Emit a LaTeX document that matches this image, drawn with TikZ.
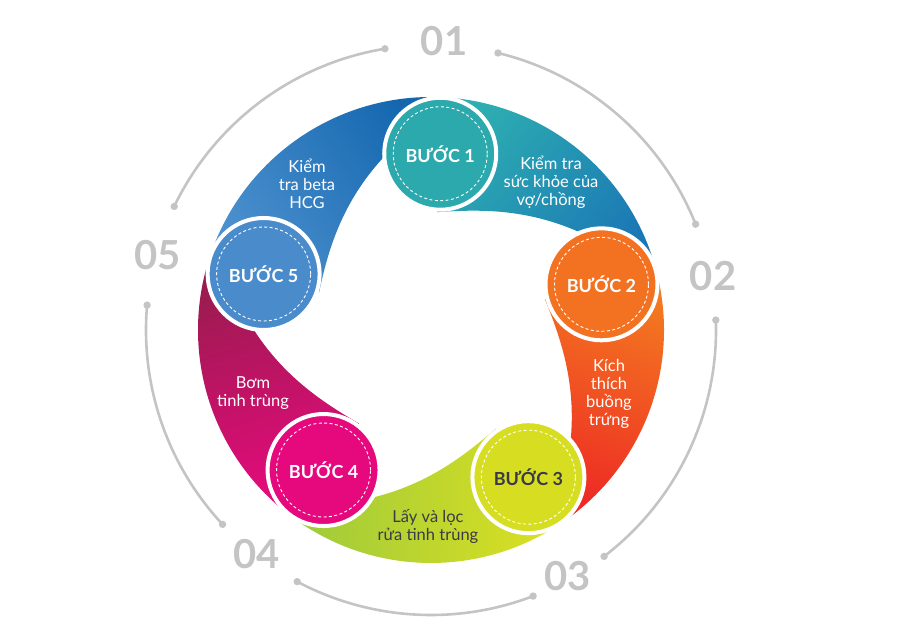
\documentclass[tikz,border=0pt]{standalone}
\usepackage{fontspec}
\setmainfont{Lato}
\pgfdeclarelayer{background}
\pgfsetlayers{background,main}
\definecolor{ringgray}{HTML}{C4C4C4}
\definecolor{darktext}{HTML}{3B3A48}
\definecolor{tealC}{HTML}{2BA9AD}
\definecolor{tealA}{HTML}{2DAEB1}
\definecolor{tealB}{HTML}{1B78B5}
\definecolor{orangeC}{HTML}{F37222}
\definecolor{orangeA}{HTML}{F47B20}
\definecolor{orangeB}{HTML}{ED2A24}
\definecolor{limeC}{HTML}{D7DE22}
\definecolor{limeA}{HTML}{DCE021}
\definecolor{limeB}{HTML}{9DCA3C}
\definecolor{pinkC}{HTML}{E6097D}
\definecolor{pinkA}{HTML}{E80A7E}
\definecolor{pinkB}{HTML}{981C4E}
\definecolor{blueC}{HTML}{4A8CCB}
\definecolor{blueA}{HTML}{4D91CF}
\definecolor{blueB}{HTML}{1467AF}
\tikzstyle{band}=[draw=none]
\tikzstyle{stepcircle}=[circle,draw=white,line width=4pt,minimum size=112pt,inner sep=0pt,font=\bfseries\fontsize{18}{20}\selectfont]
\tikzstyle{dash ring}=[draw=white,line width=0.9pt,dash pattern=on 3pt off 2.4pt]
\tikzstyle{caption}=[align=center,text=white,font=\fontsize{16.5}{18}\selectfont]
\tikzstyle{number}=[text=ringgray,font=\bfseries\fontsize{40}{40}\selectfont]
\tikzstyle{ring arc}=[draw=ringgray,line width=2.6pt]
\tikzstyle{ring dot}=[fill=ringgray]

\begin{document}
\begin{tikzpicture}[x=1pt,y=1pt]
	\useasboundingbox (-431,-306) rectangle (470,330);
	
	% First we draw the step circles
	\foreach \pos/\name/\col/\txt/\label in {{(87:176.5)/s1/tealC/white/BƯỚC 1}, {(15:176.5)/s2/orangeC/white/BƯỚC 2}, {(-56.5:176.5)/s3/limeC/darktext/BƯỚC 3}, {(-127.5:176.5)/s4/pinkC/white/BƯỚC 4}, {(161.5:176.5)/s5/blueC/white/BƯỚC 5}}
	\node[stepcircle,fill=\col,text=\txt] (\name) at \pos {\label};
	
	\foreach \i in {1,...,5}
	\draw[dash ring] (s\i.center) circle (47pt);
	
	% Coloured bands behind, each one from its circle to the next
	\begin{pgfonlayer}{background}
		\foreach \a/\b/\colA/\colB in {87/15/tealA/tealB, 15/-56.5/orangeA/orangeB, -56.5/-127.5/limeA/limeB, -127.5/-198.5/pinkA/pinkB, 161.5/87/blueA/blueB}
		{
			\pgfmathsetmacro\shadeang{(\a+\b)/2}
			\path[band,top color=\colA,bottom color=\colB,shading angle=\shadeang]
			(\a:233) arc[start angle=\a,end angle=\b,radius=233pt]
			-- plot[domain=1:0,samples=40] ({\a+(\b-(\a))*\x}:{118+18.3*\x+83.3*\x*\x}) -- cycle;
		}
	\end{pgfonlayer}
	
	% Texts on the bands
	\node[caption] (c1) at (120,148) {Kiểm tra\\sức khỏe của\\vợ/chồng};
	\node[caption] (c2) at (178,-64) {Kích\\thích\\buồng\\trứng};
	\node[caption,text=darktext] (c3) at (-3,-196) {Lấy và lọc\\rửa tinh trùng};
	\node[caption] (c4) at (-178,-63) {Bơm\\tinh trùng};
	\node[caption] (c5) at (-124,146) {Kiểm\\tra beta\\HCG};
	
	% Outer grey ring with the numbers in its gaps
	\foreach \a/\b in {76.4/21.8, 2/-52.6, -69/-118, -137/-185, 154.3/99.3}
	{
		\draw[ring arc] (\a:285) arc[start angle=\a,end angle=\b,radius=285pt];
		\fill[ring dot] (\a:285) circle (3.7pt) (\b:285) circle (3.7pt);
	}
	
	\foreach \pos/\name/\num in {{(13,289)/n1/01}, {(282,54)/n2/02}, {(136.5,-246)/n3/03}, {(-174,-224)/n4/04}, {(-273.5,75)/n5/05}}
	\node[number] (\name) at \pos {\num};
\end{tikzpicture}
\end{document}
